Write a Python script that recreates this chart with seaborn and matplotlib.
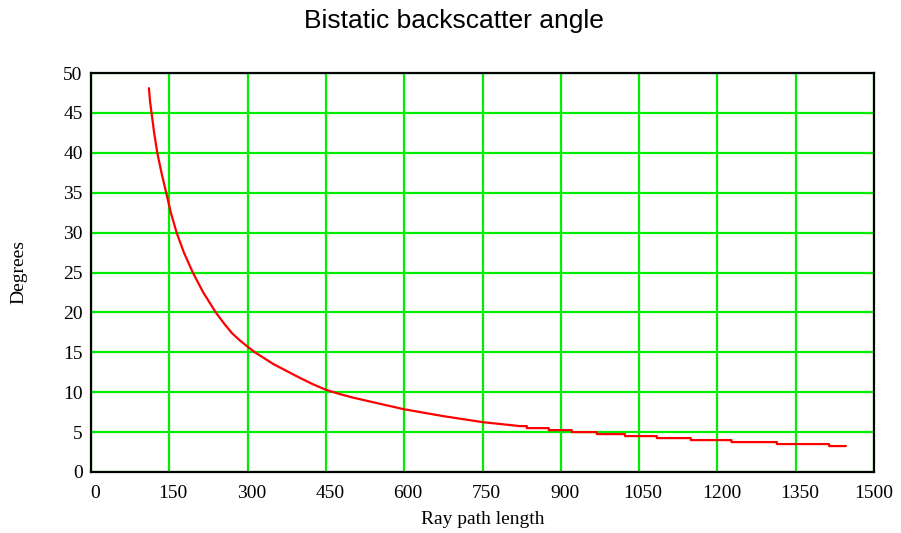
import matplotlib
matplotlib.use("Agg")
import matplotlib.pyplot as plt
import matplotlib.transforms as mtransforms
import seaborn as sns
import pandas as pd

# Data
path_length = [111, 113, 116, 121, 127, 135, 144, 153, 164, 178, 195, 215, 239, 255, 270,
               285, 300, 314, 350, 400, 425, 450, 475, 500, 550, 600, 675, 750, 822,
               835, 835, 877, 877, 921, 921, 969, 969, 1023, 1023, 1084, 1084,
               1149, 1149, 1227, 1227, 1314, 1314, 1414, 1414, 1446]
degrees = [48.1, 46.5, 45.0, 42.5, 40.0, 37.5, 35.0, 32.5, 30.0, 27.5, 25.0, 22.5, 20.0, 18.6, 17.4,
           16.5, 15.7, 15.0, 13.5, 11.8, 11.0, 10.3, 9.8, 9.35, 8.6, 7.86, 7.0, 6.25, 5.75,
           5.75, 5.5, 5.5, 5.25, 5.25, 5.0, 5.0, 4.75, 4.75, 4.5, 4.5, 4.25,
           4.25, 4.0, 4.0, 3.75, 3.75, 3.5, 3.5, 3.25, 3.25]
x_ticks = [0, 150, 300, 450, 600, 750, 900, 1050, 1200, 1350, 1500]
y_ticks = [0, 5, 10, 15, 20, 25, 30, 35, 40, 45, 50]
title = "Bistatic backscatter angle"
x_label = "Ray path length"
y_label = "Degrees"

df = pd.DataFrame({"x": path_length, "y": degrees})

sns.set_theme(style="white")
plt.rcParams["font.family"] = ["Liberation Serif", "DejaVu Serif"]

fig = plt.figure(figsize=(9.01, 5.33), dpi=100)
ax = fig.add_axes([91 / 901, 1 - 472 / 533, (874 - 91) / 901, (472 - 73) / 533])

sns.lineplot(data=df, x="x", y="y", ax=ax, sort=False, estimator=None,
             color="#ff0000", linewidth=1.6, zorder=3)

ax.set_xlim(0, 1500)
ax.set_ylim(0, 50)
ax.set_xticks(x_ticks)
ax.set_yticks(y_ticks)
ax.set_xticklabels([str(v) for v in x_ticks])
ax.set_yticklabels([str(v) for v in y_ticks])
ax.grid(True, color="#00ee00", linewidth=1.6, zorder=1)
ax.set_axisbelow(True)
for sp in ax.spines.values():
    sp.set_color("black")
    sp.set_linewidth(1.6)
    sp.set_visible(True)
    sp.set_zorder(4)

ax.tick_params(axis="both", length=0, labelsize=14, colors="black")
ax.tick_params(axis="x", pad=9)
ax.tick_params(axis="y", pad=6)
offset = mtransforms.ScaledTranslation(0.04, 0, fig.dpi_scale_trans)
for lbl in ax.get_xticklabels()[:-1]:
    lbl.set_transform(lbl.get_transform() + offset)

ax.set_xlabel(x_label, fontsize=14, labelpad=7, color="black")
ax.set_ylabel(y_label, fontsize=14, labelpad=26, color="black")
fig.text(454 / 901, 1 - 28 / 533, title, fontsize=19, color="black",
         ha="center", va="baseline", family=["Liberation Sans", "DejaVu Sans"])

fig.savefig("out.png", dpi=100)
